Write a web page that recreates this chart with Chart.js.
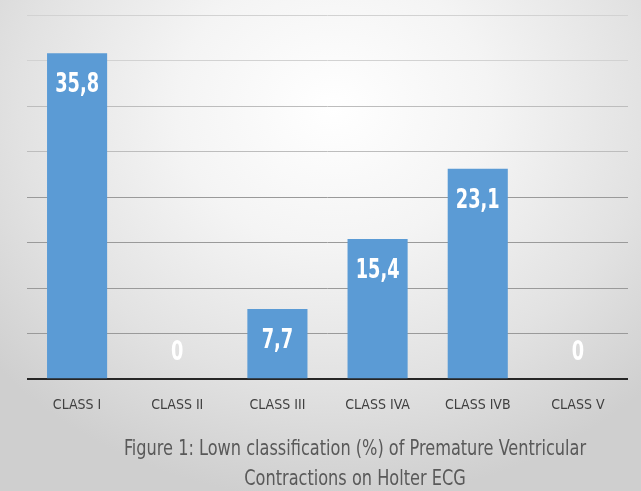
<!DOCTYPE html>
<html>
<head>
<meta charset="utf-8">
<script src="https://cdn.jsdelivr.net/npm/chart.js@4/dist/chart.umd.min.js"></script>
<style>
  html, body { margin: 0; padding: 0; }
  body {
    width: 641px; height: 491px; overflow: hidden; position: relative;
    background: radial-gradient(ellipse 70% 80% at 52% 22%, #ffffff 0%, #f4f4f4 35%, #e2e2e2 70%, #cfcfcf 100%);
  }
  #wrap { position: absolute; left: 0; top: 0; width: 641px; height: 491px; }
  #caption {
    position: absolute; left: 55px; width: 600px; top: 433px;
    text-align: center; line-height: 30px; font-size: 21px; white-space: nowrap;
    font-family: "DejaVu Sans Condensed", sans-serif;
    color: #595959;
    transform: scaleX(0.855); transform-origin: 300px 0;
  }
</style>
</head>
<body>
<div id="wrap"><canvas id="chart" width="641" height="491"></canvas></div>
<div id="caption">Figure 1: Lown classification (%) of Premature Ventricular<br>Contractions on Holter ECG</div>
<script>
const categories = ['CLASS I', 'CLASS II', 'CLASS III', 'CLASS IVA', 'CLASS IVB', 'CLASS V'];
const percentages = [35.8, 0, 7.7, 15.4, 23.1, 0];
const yTicks = [0, 5, 10, 15, 20, 25, 30, 35, 40];

const narrowFont = '"DejaVu Sans Condensed", sans-serif';

// white value labels inside the top of each bar, comma decimals
const valueLabels = {
  id: 'valueLabels',
  afterDatasetsDraw(chart) {
    const ctx = chart.ctx;
    const meta = chart.getDatasetMeta(0);
    meta.data.forEach((bar, i) => {
      const v = percentages[i];
      const text = String(v).replace('.', ',');
      const y = v > 0 ? bar.y + 32 : bar.base - 26;
      ctx.save();
      ctx.translate(bar.x, y);
      ctx.scale(0.76, 1);
      ctx.fillStyle = '#ffffff';
      ctx.font = 'bold 26px ' + narrowFont;
      ctx.textAlign = 'center';
      ctx.textBaseline = 'middle';
      ctx.fillText(text, 0, 0);
      ctx.restore();
    });
  }
};

new Chart(document.getElementById('chart'), {
  type: 'bar',
  data: {
    labels: categories,
    datasets: [{
      data: percentages,
      backgroundColor: '#5b9bd5',
      borderWidth: 0,
      barPercentage: 0.6,
      categoryPercentage: 1
    }]
  },
  options: {
    responsive: false,
    animation: false,
    layout: { padding: { left: 27, right: 13, top: 15, bottom: 59 } },
    plugins: {
      legend: { display: false },
      tooltip: { enabled: false }
    },
    scales: {
      x: {
        grid: { display: false, drawTicks: false },
        border: { display: false },
        ticks: {
          padding: 18,
          color: '#404040',
          font: { family: narrowFont, size: 14 }
        }
      },
      y: {
        min: yTicks[0],
        max: yTicks[yTicks.length - 1],
        afterBuildTicks: axis => { axis.ticks = yTicks.map(v => ({ value: v })); },
        ticks: { display: false },
        border: { display: false },
        grid: {
          drawTicks: false,
          color: c => c.tick.value === 0 ? '#262626' : (c.tick.value >= 35 ? '#d2d2d2' : (c.tick.value >= 25 ? '#bdbdbd' : '#9a9a9a')),
          lineWidth: c => c.tick.value === 0 ? 2 : 1
        }
      }
    }
  },
  plugins: [valueLabels]
});
</script>
</body>
</html>
